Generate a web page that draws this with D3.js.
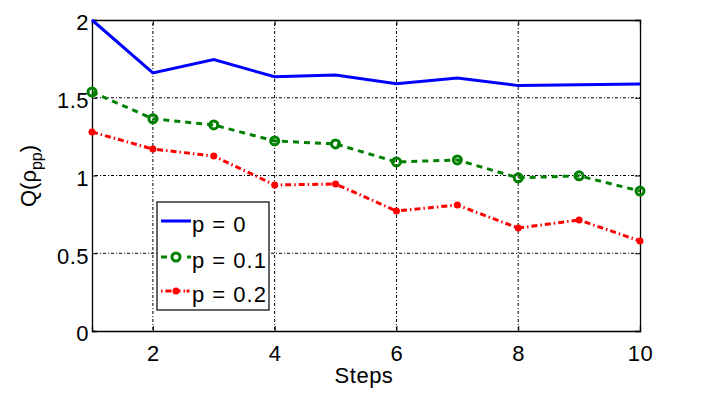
<!DOCTYPE html>
<html><head><meta charset="utf-8">
<script src="https://cdn.jsdelivr.net/npm/d3@7"></script>
<style>body{margin:0;background:#fff}svg{display:block}text{font-family:"Liberation Sans",Arial,sans-serif}</style>
</head><body><svg id="c" width="707" height="396"></svg>
<script>
const steps = [1,2,3,4,5,6,7,8,9,10];
const p0  = [2.0,1.66,1.745,1.635,1.646,1.59,1.627,1.578,1.583,1.588];
const p01 = [1.537,1.365,1.325,1.222,1.203,1.087,1.10,0.985,0.998,0.90];
const p02 = [1.28,1.17,1.125,0.939,0.945,0.772,0.81,0.662,0.714,0.579];
const xTicks = [2,4,6,8,10];
const yTicks = [0,0.5,1,1.5,2];
const seriesNames = ["p = 0","p = 0.1","p = 0.2"];

const svg = d3.select("#c");
const L=92,R=640,T=20,B=331;
const x = d3.scaleLinear().domain([1,10]).range([L,R]);
const y = d3.scaleLinear().domain([0,2]).range([B,T]);
const FS = 22;

// grid
const g = svg.append("g");
g.selectAll(".gx").data(xTicks.filter(d=>d<10)).enter().append("line")
 .attr("x1",d=>x(d)).attr("x2",d=>x(d)).attr("y1",T).attr("y2",B)
 .attr("stroke","#000").attr("stroke-width",1).attr("stroke-dasharray","1,2,3,2");
g.selectAll(".gy").data(yTicks.filter(d=>d>0&&d<2)).enter().append("line")
 .attr("y1",d=>y(d)).attr("y2",d=>y(d)).attr("x1",L).attr("x2",R)
 .attr("stroke","#000").attr("stroke-width",1).attr("stroke-dasharray","1,2,3,2");

// axes
const xa = svg.append("g").attr("transform",`translate(0,${B})`)
 .call(d3.axisBottom(x).tickValues(xTicks).tickSize(-5).tickPadding(14).tickFormat(d3.format("d")));
const xt = svg.append("g").attr("transform",`translate(0,${T})`)
 .call(d3.axisTop(x).tickValues(xTicks).tickSize(-5).tickFormat(""));
const ya = svg.append("g").attr("transform",`translate(${L},0)`)
 .call(d3.axisLeft(y).tickValues(yTicks).tickSize(-5).tickPadding(3).tickFormat(d=>d));
const yr = svg.append("g").attr("transform",`translate(${R},0)`)
 .call(d3.axisRight(y).tickValues(yTicks).tickSize(-5).tickFormat(""));
[xa,xt,ya,yr].forEach(a=>{a.attr("font-size",FS);
 a.selectAll("path").attr("stroke","#000").attr("stroke-width",1.3);
 a.selectAll("line").attr("stroke","#000");
 a.selectAll("text").attr("font-size",FS).attr("fill","#000").style("letter-spacing","0.5px")
  .style("font-family","'Liberation Sans',Arial,sans-serif");});
ya.selectAll("text").attr("dy","0.45em");

// lines
const line = ys => d3.line().x((d,i)=>x(steps[i])).y(d=>y(d))(ys);
svg.append("path").attr("d",line(p0)).attr("fill","none").attr("stroke","#0000ff").attr("stroke-width",3);
svg.append("path").attr("d",line(p01)).attr("fill","none").attr("stroke","#008000").attr("stroke-width",3).attr("stroke-dasharray","6,5");
svg.append("path").attr("d",line(p02)).attr("fill","none").attr("stroke","#ff0000").attr("stroke-width",3).attr("stroke-dasharray","6,3,1.5,3");
svg.selectAll(".m1").data(p01).enter().append("circle")
 .attr("cx",(d,i)=>x(steps[i])).attr("cy",d=>y(d)).attr("r",4)
 .attr("fill","none").attr("stroke","#008000").attr("stroke-width",3);
svg.selectAll(".m2").data(p02).enter().append("circle")
 .attr("cx",(d,i)=>x(steps[i])).attr("cy",d=>y(d)).attr("r",3.5).attr("fill","#ff0000");

// legend
const lg = svg.append("g");
lg.append("rect").attr("x",157).attr("y",202).attr("width",112).attr("height",108)
 .attr("fill","#fff").attr("stroke","#000").attr("stroke-width",1.2);
const rows=[221,257,291];
const styles=[{c:"#0000ff",da:null},{c:"#008000",da:"5,4"},{c:"#ff0000",da:"2,3,6,3"}];
rows.forEach((ry,i)=>{
 const l=lg.append("line").attr("x1",161).attr("x2",191).attr("y1",ry).attr("y2",ry)
  .attr("stroke",styles[i].c).attr("stroke-width",3);
 if(styles[i].da) l.attr("stroke-dasharray",i==1?"6,20,6":"1.5,3,6,3,6,3,1.5");
 if(i==1) lg.append("circle").attr("cx",176).attr("cy",ry).attr("r",4).attr("fill","none").attr("stroke","#008000").attr("stroke-width",3);
 if(i==2) lg.append("circle").attr("cx",176).attr("cy",ry).attr("r",3.5).attr("fill","#ff0000");
 lg.append("text").attr("x",192).attr("y",ry+11).attr("font-size",FS).style("letter-spacing","1px").text(seriesNames[i]);
});

// labels
svg.append("text").attr("x",364).attr("y",383).attr("text-anchor","middle").attr("font-size",FS).style("letter-spacing","0.5px").text("Steps");
const yl = svg.append("text").attr("transform","translate(36,176) rotate(-90)").attr("text-anchor","middle").attr("font-size",FS);
yl.append("tspan").text("Q(ρ");
yl.append("tspan").attr("font-size",16).attr("dy",6).text("pp");
yl.append("tspan").attr("dy",-6).text(")");
</script></body></html>
